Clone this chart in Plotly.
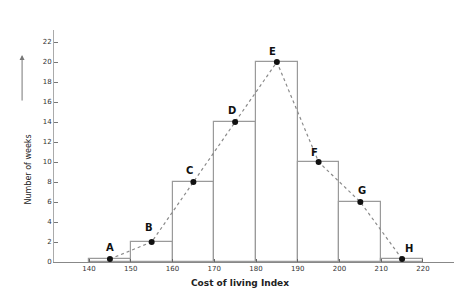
import plotly.graph_objects as go

# Data
class_lower = [140, 150, 160, 170, 180, 190, 200, 210]
class_width = 10
weeks = [0.3, 2, 8, 14, 20, 10, 6, 0.3]
point_labels = ["A", "B", "C", "D", "E", "F", "G", "H"]
x_ticks = [140, 150, 160, 170, 180, 190, 200, 210, 220]
y_ticks = [0, 2, 4, 6, 8, 10, 12, 14, 16, 18, 20, 22]

mids = [lo + class_width / 2 for lo in class_lower]

fig = go.Figure()

# Histogram bars (outlined)
fig.add_trace(go.Bar(
    x=mids, y=weeks, width=[class_width] * len(mids),
    marker=dict(color="rgba(0,0,0,0)", line=dict(color="#9a9a9a", width=1.2)),
    hoverinfo="skip", showlegend=False,
))

# Frequency polygon
fig.add_trace(go.Scatter(
    x=mids, y=weeks, mode="lines+markers",
    line=dict(color="#8a8a8a", width=1.2, dash="dot"),
    marker=dict(color="#111", size=6),
    showlegend=False,
))

# Point letters
label_shift = {"A": (0, 12), "B": (-3, 15), "C": (-4, 12), "D": (-3, 12),
               "E": (-4, 11), "F": (-4, 10), "G": (2, 12), "H": (7, 11)}
for xm, yv, lab in zip(mids, weeks, point_labels):
    dx, dy = label_shift[lab]
    fig.add_annotation(x=xm, y=yv, text=f"<b>{lab}</b>", showarrow=False,
                       xshift=dx, yshift=dy,
                       font=dict(family="DejaVu Sans", size=10, color="#111"))

fig.update_layout(
    width=454, height=286,
    margin=dict(l=46, r=4, t=22, b=32, autoexpand=False),
    paper_bgcolor="white", plot_bgcolor="white",
    bargap=0,
    xaxis=dict(range=[131.6, 228.4], tickvals=x_ticks,
               ticktext=[str(v) for v in x_ticks], automargin=False,
               showgrid=False, zeroline=False, showline=True,
               linecolor="#888", linewidth=1,
               ticks="inside", ticklen=3, tickcolor="#666",
               tickfont=dict(family="DejaVu Sans", size=7, color="#333")),
    yaxis=dict(range=[0, 23.2], tickvals=y_ticks,
               ticktext=[str(v) for v in y_ticks], automargin=False,
               showgrid=False, zeroline=False, showline=True,
               linecolor="#aaa", linewidth=1,
               ticks="inside", ticklen=4, tickcolor="#777",
               tickfont=dict(family="DejaVu Sans", size=7, color="#333")),
)

# Axis titles
fig.add_annotation(xref="paper", yref="paper", x=0.46, y=-0.09,
                   text="<b>Cost of living Index</b>", showarrow=False,
                   yanchor="middle",
                   font=dict(family="DejaVu Sans", size=9, color="#222"))
fig.add_annotation(xref="paper", yref="paper", x=-0.079, y=0.397,
                   text="Number of weeks", textangle=-90, showarrow=False,
                   font=dict(family="DejaVu Sans", size=8, color="#222"))
fig.add_annotation(xref="paper", yref="paper", x=-0.079, y=0.892,
                   ax=0, ay=47, axref="pixel", ayref="pixel",
                   text="", showarrow=True, arrowhead=2, arrowsize=1,
                   arrowwidth=1, arrowcolor="#777")

fig.write_html("out.html")
